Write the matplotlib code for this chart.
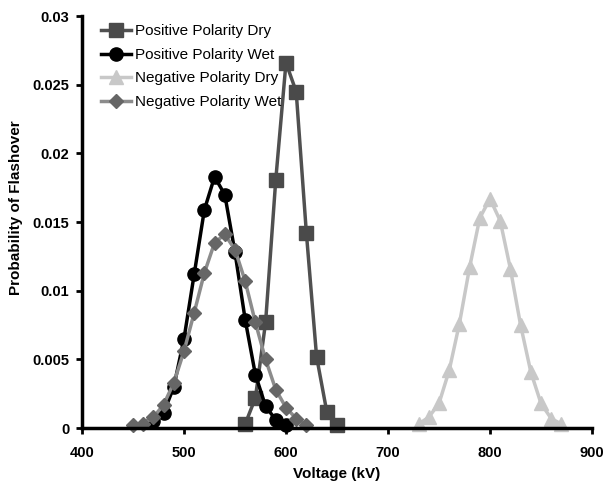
import matplotlib.pyplot as plt
from matplotlib.ticker import FixedLocator, FixedFormatter

plt.rcParams['font.family'] = ['Liberation Sans', 'DejaVu Sans']

# Voltage (kV) and probability of flashover for each test case
pos_dry_v = [560, 570, 580, 590, 600, 610, 620, 630, 640, 650]
pos_dry_p = [0.0003, 0.0022, 0.0077, 0.0181, 0.0266, 0.0245, 0.0142, 0.0052, 0.0012, 0.0002]

pos_wet_v = [470, 480, 490, 500, 510, 520, 530, 540, 550, 560, 570, 580, 590, 600]
pos_wet_p = [0.0005, 0.0011, 0.0030, 0.0065, 0.0112, 0.0159, 0.0183, 0.0170, 0.0128,
             0.0079, 0.0039, 0.0016, 0.0006, 0.0002]

neg_dry_v = [730, 740, 750, 760, 770, 780, 790, 800, 810, 820, 830, 840, 850, 860, 870]
neg_dry_p = [0.0003, 0.0008, 0.0018, 0.0042, 0.0076, 0.0117, 0.0153, 0.0167, 0.0151,
             0.0116, 0.0075, 0.0041, 0.0018, 0.0007, 0.0003]

neg_wet_v = [450, 460, 470, 480, 490, 500, 510, 520, 530, 540, 550, 560, 570, 580,
             590, 600, 610, 620]
neg_wet_p = [0.0002, 0.0003, 0.0008, 0.0017, 0.0033, 0.0056, 0.0084, 0.0113, 0.0135,
             0.0141, 0.0130, 0.0107, 0.0077, 0.0050, 0.0028, 0.0015, 0.0007, 0.0002]

x_ticks = [400, 500, 600, 700, 800, 900]
y_ticks = [0, 0.005, 0.01, 0.015, 0.02, 0.025, 0.03]
y_tick_labels = ["0", "0.005", "0.01", "0.015", "0.02", "0.025", "0.03"]

fig = plt.figure(figsize=(6.05, 4.86), dpi=100)
ax = fig.add_axes([0.1355, 0.119, 0.843, 0.848])

ax.plot(pos_dry_v, pos_dry_p, color="#505050", lw=2.5, marker="s", ms=9.5,
        mfc="#4a4a4a", mec="#4a4a4a", label="Positive Polarity Dry", clip_on=False)
ax.plot(pos_wet_v, pos_wet_p, color="black", lw=2.5, marker="o", ms=9.5,
        label="Positive Polarity Wet", clip_on=False)
ax.plot(neg_dry_v, neg_dry_p, color="#c8c8c8", lw=2.5, marker="^", ms=10.5,
        label="Negative Polarity Dry", clip_on=False)
ax.plot(neg_wet_v, neg_wet_p, color="#8c8c8c", lw=2.5, marker="D", ms=7.5,
        mfc="#666666", mec="#666666", label="Negative Polarity Wet", clip_on=False)

ax.set_xlim(400, 900)
ax.set_ylim(0, 0.03)
ax.xaxis.set_major_locator(FixedLocator(x_ticks))
ax.yaxis.set_major_locator(FixedLocator(y_ticks))
ax.yaxis.set_major_formatter(FixedFormatter(y_tick_labels))

for s in ["top", "right"]:
    ax.spines[s].set_visible(False)
for s in ["left", "bottom"]:
    ax.spines[s].set_linewidth(2.5)
ax.tick_params(direction="out", length=4, width=2, labelsize=10.5)
ax.tick_params(axis="x", pad=9)
ax.tick_params(axis="y", pad=5)
for lbl in ax.get_xticklabels() + ax.get_yticklabels():
    lbl.set_fontweight("bold")

ax.set_xlabel("Voltage (kV)", fontsize=11, fontweight="bold", labelpad=5)
ax.set_ylabel("Probability of Flashover", fontsize=11, fontweight="bold")
ax.yaxis.set_label_coords(-0.116, 0.536)

ax.legend(loc="upper left", bbox_to_anchor=(0.02, 1.0), frameon=False, fontsize=11,
          handlelength=2.0, handletextpad=0.25, labelspacing=0.62, borderaxespad=0.15)

plt.savefig("out.png", dpi=100)
